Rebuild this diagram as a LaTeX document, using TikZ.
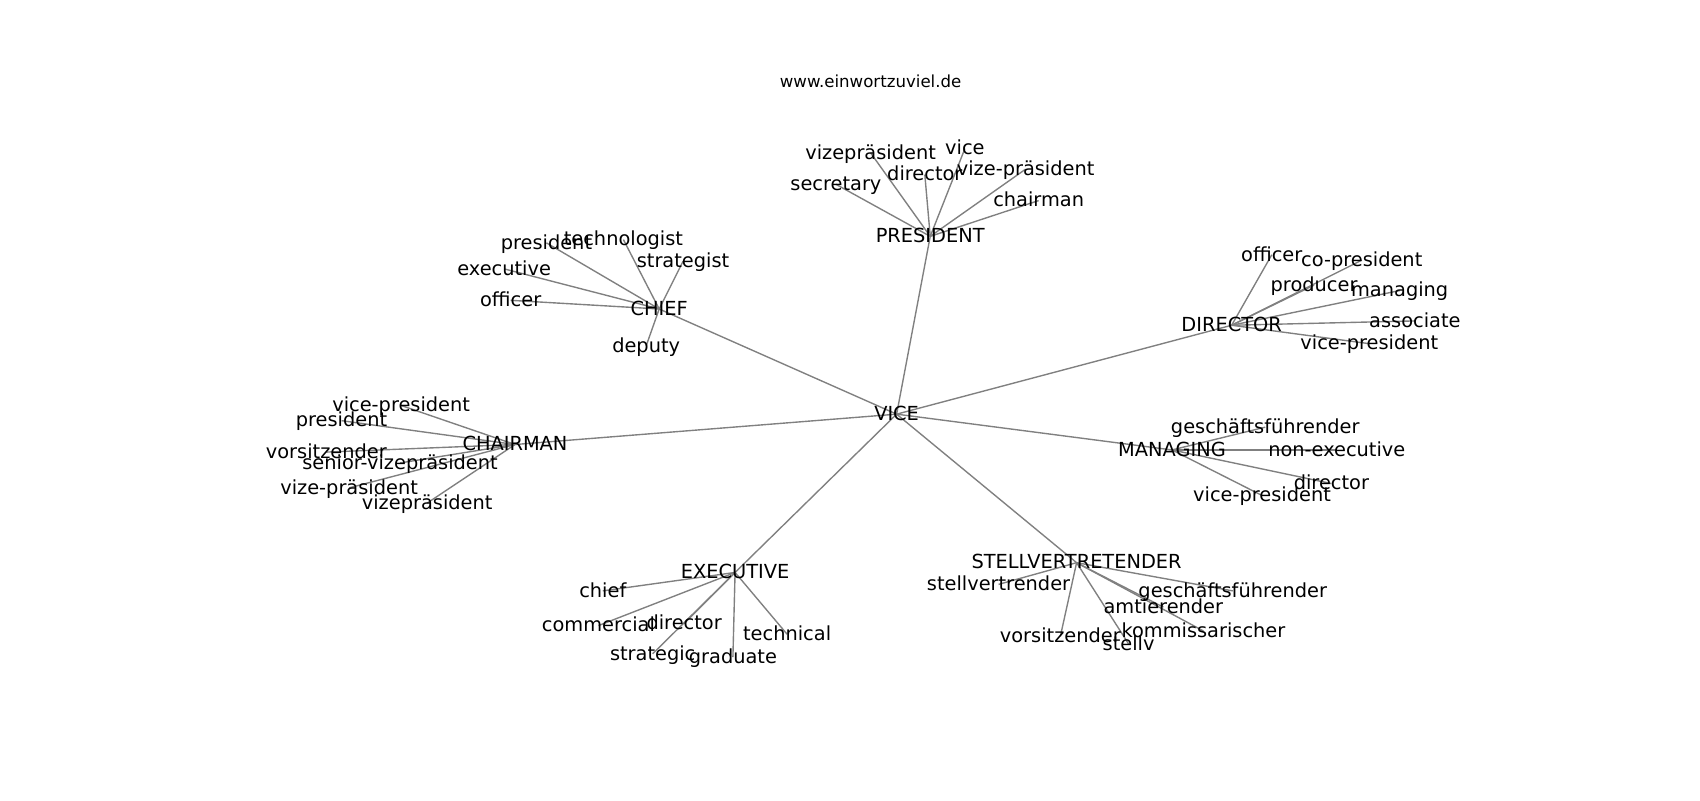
\documentclass[tikz,border=0pt]{standalone}
\usepackage{fontspec}
\setmainfont{DejaVu Sans}
\usetikzlibrary{backgrounds}

\tikzset{
  word/.style={inner sep=0pt, text height=1.15em, text depth=0.24em, font=\fontsize{14}{17}\selectfont},
  link/.style={draw=gray, line width=1pt}
}

\begin{document}
\begin{tikzpicture}[x=0.027538cm, y=-0.027538cm]
\useasboundingbox (0,0) rectangle (1568,738);
%title
\node [font=\fontsize{12}{14}\selectfont, inner sep=0pt] (title) at (803,75) {www.einwortzuviel.de};

%the centre
\node [word] (vice) at (827,382) {VICE};

%the hubs
\node [word] (president) at (858,218) {PRESIDENT};
\node [word] (chief) at (608,285) {CHIEF};
\node [word] (director) at (1136,300) {DIRECTOR};
\node [word] (chairman) at (475,410) {CHAIRMAN};
\node [word] (managing) at (1081,415) {MANAGING};
\node [word] (executive) at (678,528) {EXECUTIVE};
\node [word] (stell) at (993,519) {STELLVERTRETENDER};

%words round PRESIDENT
\node [word] (pVizeprae) at (803,141) {vizepräsident};
\node [word] (pVice) at (890,137) {vice};
\node [word] (pDirector) at (853,161) {director};
\node [word] (pVizeDash) at (946,156) {vize-präsident};
\node [word] (pSecretary) at (771,170) {secretary};
\node [word] (pChairman) at (958,185) {chairman};

%words round CHIEF
\node [word] (cPresident) at (504,224) {president};
\node [word] (cTechnologist) at (575,221) {technologist};
\node [word] (cExecutive) at (465,248) {executive};
\node [word] (cStrategist) at (630,241) {strategist};
\node [word] (cOfficer) at (471,277) {officer};
\node [word] (cDeputy) at (596,319) {deputy};

%words round DIRECTOR
\node [word] (dOfficer) at (1173,235) {officer};
\node [word] (dCoPresident) at (1256,240) {co-president};
\node [word] (dProducer) at (1212,263) {producer};
\node [word] (dManaging) at (1291,268) {managing};
\node [word] (dAssociate) at (1305,296) {associate};
\node [word] (dVicePresident) at (1263,317) {vice-president};

%words round CHAIRMAN
\node [word] (hVicePresident) at (370,374) {vice-president};
\node [word] (hPresident) at (315,388) {president};
\node [word] (hVorsitzender) at (301,417) {vorsitzender};
\node [word] (hSenior) at (369,427) {senior-vizepräsident};
\node [word] (hVizeDash) at (322,450) {vize-präsident};
\node [word] (hVizeprae) at (394,464) {vizepräsident};

%words round MANAGING
\node [word] (mGeschaefts) at (1167,394) {geschäftsführender};
\node [word] (mNonExecutive) at (1233,415) {non-executive};
\node [word] (mDirector) at (1228,446) {director};
\node [word] (mVicePresident) at (1164,457) {vice-president};

%words round EXECUTIVE
\node [word] (eChief) at (556,545) {chief};
\node [word] (eCommercial) at (552,577) {commercial};
\node [word] (eDirector) at (631,575) {director};
\node [word] (eTechnical) at (726,585) {technical};
\node [word] (eStrategic) at (602,603) {strategic};
\node [word] (eGraduate) at (676,606) {graduate};

%words round STELLVERTRETENDER
\node [word] (sStellvertrender) at (921,539) {stellvertrender};
\node [word] (sGeschaefts) at (1137,545) {geschäftsführender};
\node [word] (sAmtierender) at (1073,560) {amtierender};
\node [word] (sKommissarischer) at (1110,582) {kommissarischer};
\node [word] (sVorsitzender) at (978,587) {vorsitzender};
\node [word] (sStellv) at (1041,594) {stellv};

%the links, under the words
\begin{pgfonlayer}{background}
\draw [link] (vice.center) -- (president.center);
\draw [link] (vice.center) -- (chief.center);
\draw [link] (vice.center) -- (director.center);
\draw [link] (vice.center) -- (chairman.center);
\draw [link] (vice.center) -- (managing.center);
\draw [link] (vice.center) -- (executive.center);
\draw [link] (vice.center) -- (stell.center);

\draw [link] (president.center) -- (pVizeprae.center);
\draw [link] (president.center) -- (pVice.center);
\draw [link] (president.center) -- (pDirector.center);
\draw [link] (president.center) -- (pVizeDash.center);
\draw [link] (president.center) -- (pSecretary.center);
\draw [link] (president.center) -- (pChairman.center);

\draw [link] (chief.center) -- (cPresident.center);
\draw [link] (chief.center) -- (cTechnologist.center);
\draw [link] (chief.center) -- (cExecutive.center);
\draw [link] (chief.center) -- (cStrategist.center);
\draw [link] (chief.center) -- (cOfficer.center);
\draw [link] (chief.center) -- (cDeputy.center);

\draw [link] (director.center) -- (dOfficer.center);
\draw [link] (director.center) -- (dCoPresident.center);
\draw [link] (director.center) -- (dProducer.center);
\draw [link] (director.center) -- (dManaging.center);
\draw [link] (director.center) -- (dAssociate.center);
\draw [link] (director.center) -- (dVicePresident.center);

\draw [link] (chairman.center) -- (hVicePresident.center);
\draw [link] (chairman.center) -- (hPresident.center);
\draw [link] (chairman.center) -- (hVorsitzender.center);
\draw [link] (chairman.center) -- (hSenior.center);
\draw [link] (chairman.center) -- (hVizeDash.center);
\draw [link] (chairman.center) -- (hVizeprae.center);

\draw [link] (managing.center) -- (mGeschaefts.center);
\draw [link] (managing.center) -- (mNonExecutive.center);
\draw [link] (managing.center) -- (mDirector.center);
\draw [link] (managing.center) -- (mVicePresident.center);

\draw [link] (executive.center) -- (eChief.center);
\draw [link] (executive.center) -- (eCommercial.center);
\draw [link] (executive.center) -- (eDirector.center);
\draw [link] (executive.center) -- (eTechnical.center);
\draw [link] (executive.center) -- (eStrategic.center);
\draw [link] (executive.center) -- (eGraduate.center);

\draw [link] (stell.center) -- (sStellvertrender.center);
\draw [link] (stell.center) -- (sGeschaefts.center);
\draw [link] (stell.center) -- (sAmtierender.center);
\draw [link] (stell.center) -- (sKommissarischer.center);
\draw [link] (stell.center) -- (sVorsitzender.center);
\draw [link] (stell.center) -- (sStellv.center);
\end{pgfonlayer}
\end{tikzpicture}
\end{document}
